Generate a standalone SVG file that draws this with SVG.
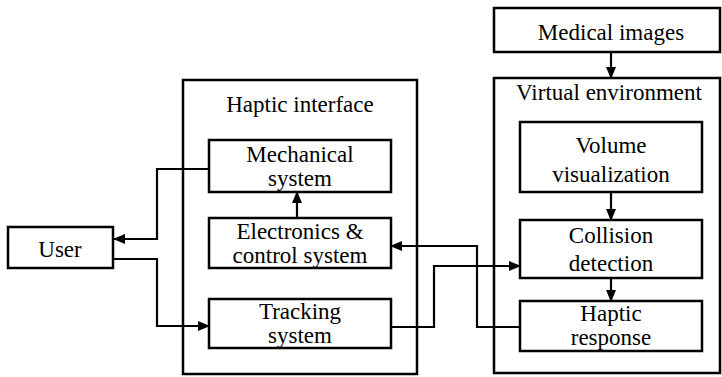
<svg xmlns="http://www.w3.org/2000/svg" width="722" height="377" viewBox="0 0 722 377" font-family="Liberation Serif, Times New Roman, serif">
<style>
.box{fill:#fff;stroke:#000;stroke-width:2.5}
.grp{fill:none;stroke:#000;stroke-width:2.5}
text{font-size:23px;fill:#000;text-anchor:middle}
.c{fill:none;stroke:#000;stroke-width:2.2}
</style>
<defs>
<marker id="ah" markerUnits="userSpaceOnUse" markerWidth="12" markerHeight="10" refX="11" refY="5" orient="auto">
<path d="M0,0 L12,5 L0,10 Z" fill="#000"/>
</marker>
</defs>
<g id="haptic-interface">
<rect class="grp" x="183" y="80" width="234" height="294"/>
<text x="300" y="112" font-size="26">Haptic interface</text>
</g>
<g id="virtual-environment">
<rect class="grp" x="494" y="78" width="226" height="295"/>
<text x="609" y="100" font-size="26">Virtual environment</text>
</g>
<g id="user">
<rect class="box" x="8" y="227" width="105" height="41"/>
<text x="60" y="257" font-size="26">User</text>
</g>
<g id="mechanical">
<rect class="box" x="209" y="140" width="182" height="52"/>
<text x="300" y="162">Mechanical</text>
<text x="300" y="186">system</text>
</g>
<g id="electronics">
<rect class="box" x="209" y="218" width="182" height="50"/>
<text x="300" y="239">Electronics &amp;</text>
<text x="300" y="263">control system</text>
</g>
<g id="tracking">
<rect class="box" x="209" y="299" width="182" height="49"/>
<text x="300" y="319">Tracking</text>
<text x="300" y="343">system</text>
</g>
<g id="medical-images">
<rect class="box" x="494" y="8" width="226" height="44"/>
<text x="611" y="40" font-size="26">Medical images</text>
</g>
<g id="volume">
<rect class="box" x="520" y="122" width="182" height="70"/>
<text x="611" y="153">Volume</text>
<text x="611" y="182">visualization</text>
</g>
<g id="collision">
<rect class="box" x="520" y="220" width="182" height="58"/>
<text x="611" y="243">Collision</text>
<text x="611" y="271">detection</text>
</g>
<g id="haptic-response">
<rect class="box" x="520" y="301" width="182" height="50"/>
<text x="611" y="321">Haptic</text>
<text x="611" y="345">response</text>
</g>
<g id="connectors">
<path class="c" d="M209,169 H157 V239 H114" marker-end="url(#ah)"/>
<path class="c" d="M113,259 H157 V326 H209" marker-end="url(#ah)"/>
<path class="c" d="M297,218 V192" marker-end="url(#ah)"/>
<path class="c" d="M520,327 H477 V246 H391" marker-end="url(#ah)"/>
<path class="c" d="M391,327 H434 V266 H520" marker-end="url(#ah)"/>
<path class="c" d="M611,52 V78" marker-end="url(#ah)"/>
<path class="c" d="M611,192 V220" marker-end="url(#ah)"/>
<path class="c" d="M611,278 V301" marker-end="url(#ah)"/>
</g>
</svg>
